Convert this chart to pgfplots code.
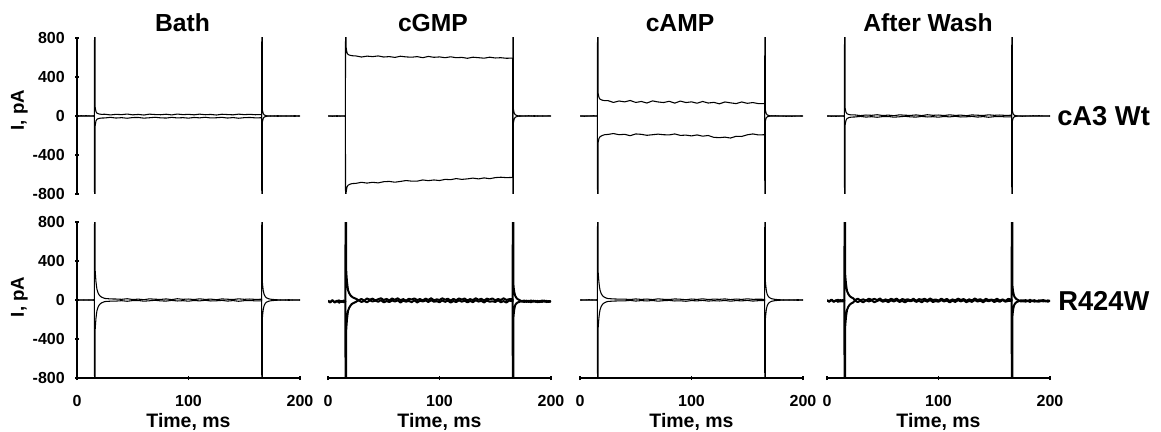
\documentclass[border=0pt]{standalone}
\usepackage{fontspec}
\setmainfont{Liberation Sans}
\usepackage{pgfplots}
\pgfplotsset{compat=1.18}
\pgfplotsset{
  panel/.style={width=167.25pt,height=117pt,scale only axis,
    xmin=0,xmax=200,ymin=-800,ymax=800,clip=true,
    major tick length=3pt,tick align=outside,
    tick style={line width=1pt,black},
    xtick={0,100,200},ytick={-800,-400,0,400,800},
    tick label style={font=\bfseries\fontsize{12}{14}\selectfont,
      /pgf/number format/assume math mode=true,inner sep=0pt},
    yticklabel style={xshift=-7.5pt},
    xticklabel style={yshift=-11pt},
    title style={font=\bfseries\fontsize{18.5}{22}\selectfont,
      at={(axis description cs:0.5,1)},anchor=base,yshift=-1.5pt,inner sep=0pt},
    label style={inner sep=0pt}},
  tr/.style={black,line width=0.8pt,line join=round,no marks},
  trn/.style={black,line width=1.5pt,line join=round,no marks},
  rowtop/.style={hide x axis},
  rowbot/.style={axis x line=bottom,xlabel={Time, ms},
    xlabel style={font=\bfseries\fontsize{14.6}{17}\selectfont,
      at={(axis description cs:0.5,0)},anchor=base,yshift=-36.75pt}},
  colfirst/.style={axis y line=left,ylabel={I, pA},
    ylabel style={font=\bfseries\fontsize{14}{17}\selectfont}},
  colrest/.style={hide y axis},
  noarrow/.style={axis line style={-,line width=1pt,black},
    every outer x axis line/.append style={-},
    every outer y axis line/.append style={-},
    every inner x axis line/.append style={-},
    every inner y axis line/.append style={-}},
}
\begin{document}
\begin{tikzpicture}
\path[use as bounding box] (0pt,0pt) rectangle (870.75pt,-324pt);
% ---------------- top row: cA3 Wt ----------------
\begin{axis}[panel,rowtop,colfirst,noarrow,at={(57.75pt,-145.5pt)},anchor=south west,
  title={Bath},title style={xshift=-4.5pt},
  ylabel style={at={(axis description cs:-0.2377,0.538)},anchor=base}]
\addplot[tr] coordinates {(0,0)(4,3)(8,-2)(12,2)(15.6,0)(16,2500)(16.3,90)(17,45)(18,28)(20,20)(22,17)(25,18)(30,11)(35,17)(40,14)(45,20)(50,12)(55,16)(60,10)(65,19)(70,15)(75,13)(80,18)(85,11)(90,20)(95,14)(100,17)(105,12)(110,19)(115,13)(120,16)(125,10)(130,18)(135,15)(140,12)(145,19)(150,14)(155,17)(160,13)(165.6,15)(166,-2500)(166.3,-60)(167,-25)(168,-10)(170,-3)(172,2)(175,-2)(180,3)(185,-2)(190,2)(195,-3)(200,1)};
\addplot[tr] coordinates {(0,1)(4,-2)(8,3)(12,-1)(15.6,0)(16,-2500)(16.3,-100)(17,-50)(18,-32)(20,-24)(22,-21)(25,-20)(30,-14)(35,-21)(40,-17)(45,-23)(50,-16)(55,-15)(60,-22)(65,-18)(70,-13)(75,-19)(80,-21)(85,-14)(90,-20)(95,-17)(100,-22)(105,-15)(110,-19)(115,-13)(120,-20)(125,-18)(130,-14)(135,-21)(140,-16)(145,-23)(150,-17)(155,-15)(160,-19)(165.6,-18)(166,2500)(166.3,60)(167,25)(168,10)(170,2)(172,-2)(175,2)(180,-3)(185,2)(190,-2)(195,3)(200,-1)};
\end{axis}
\begin{axis}[panel,rowtop,colrest,noarrow,at={(246pt,-145.5pt)},anchor=south west,
  title={cGMP},title style={xshift=-4.9pt}]
\addplot[tr] coordinates {(0,2)(4,-3)(8,3)(12,-2)(15.6,0)(16,2500)(16.3,700)(17,650)(18,630)(20,622)(22,618)(25,616)(30,605)(35,614)(40,609)(45,616)(50,605)(55,609)(60,601)(65,613)(70,606)(75,603)(80,609)(85,598)(90,611)(95,602)(100,606)(105,598)(110,607)(115,598)(120,601)(125,592)(130,603)(135,598)(140,593)(145,603)(150,595)(155,598)(160,592)(165.6,594)(166,-2500)(166.3,-70)(167,-30)(168,-12)(170,-4)(172,3)(175,-2)(180,3)(185,-3)(190,2)(195,-2)(200,2)};
\addplot[tr] coordinates {(0,-2)(4,2)(8,-3)(12,1)(15.6,0)(16,-2500)(16.3,-780)(17,-730)(18,-710)(20,-698)(22,-693)(25,-691)(30,-680)(35,-688)(40,-680)(45,-686)(50,-674)(55,-671)(60,-679)(65,-671)(70,-662)(75,-668)(80,-668)(85,-656)(90,-663)(95,-656)(100,-662)(105,-650)(110,-653)(115,-642)(120,-650)(125,-645)(130,-637)(135,-645)(140,-635)(145,-643)(150,-632)(155,-628)(160,-632)(165.6,-630)(166,2500)(166.3,70)(167,30)(168,12)(170,3)(172,-3)(175,2)(180,-2)(185,3)(190,-2)(195,2)(200,-1)};
\end{axis}
\begin{axis}[panel,rowtop,colrest,noarrow,at={(435pt,-145.5pt)},anchor=south west,
  title={cAMP},title style={xshift=-8.6pt}]
\addplot[tr] coordinates {(0,2)(4,-3)(8,2)(12,-2)(15.6,0)(16,2500)(16.3,230)(17,190)(18,172)(20,162)(22,158)(25,158)(30,139)(35,154)(40,145)(45,159)(50,139)(55,149)(60,133)(65,155)(70,144)(75,138)(80,151)(85,132)(90,153)(95,138)(100,145)(105,131)(110,149)(115,133)(120,140)(125,125)(130,144)(135,135)(140,127)(145,144)(150,130)(155,138)(160,127)(165.6,128)(166,-2500)(166.3,-50)(167,-20)(168,-8)(170,-2)(172,3)(175,-2)(180,2)(185,-3)(190,2)(195,-2)(200,1)};
\addplot[tr] coordinates {(0,-2)(4,2)(8,-2)(12,3)(15.6,0)(16,-2500)(16.3,-270)(17,-230)(18,-212)(20,-200)(22,-192)(25,-189)(30,-180)(35,-192)(40,-188)(45,-202)(50,-184)(55,-188)(60,-198)(65,-192)(70,-186)(75,-192)(80,-194)(85,-184)(90,-199)(95,-196)(100,-204)(105,-194)(110,-207)(115,-200)(120,-219)(125,-222)(130,-217)(135,-226)(140,-208)(145,-210)(150,-193)(155,-184)(160,-194)(165.6,-192)(166,2500)(166.3,60)(167,25)(168,10)(170,3)(172,-2)(175,3)(180,-2)(185,2)(190,-3)(195,2)(200,-1)};
\end{axis}
\begin{axis}[panel,rowtop,colrest,noarrow,at={(620.25pt,-145.5pt)},anchor=south west,
  title={After Wash},title style={xshift=-7.9pt}]
\addplot[tr] coordinates {(0,1)(4,-3)(8,2)(12,-2)(15.6,0)(16,2500)(16.3,80)(17,40)(18,22)(20,14)(22,11)(25,11)(30,4)(35,10)(40,7)(45,13)(50,5)(55,9)(60,3)(65,12)(70,8)(75,6)(80,11)(85,4)(90,13)(95,7)(100,10)(105,5)(110,12)(115,6)(120,9)(125,3)(130,11)(135,8)(140,5)(145,12)(150,7)(155,10)(160,6)(165.6,8)(166,-2500)(166.3,-50)(167,-20)(168,-8)(170,-2)(172,2)(175,-3)(180,2)(185,-2)(190,3)(195,-2)(200,0)};
\addplot[tr] coordinates {(0,-1)(4,2)(8,-3)(12,1)(15.6,0)(16,-2500)(16.3,-90)(17,-45)(18,-25)(20,-15)(22,-11)(25,-10)(30,-4)(35,-11)(40,-7)(45,-13)(50,-6)(55,-5)(60,-12)(65,-8)(70,-3)(75,-9)(80,-11)(85,-4)(90,-10)(95,-7)(100,-12)(105,-5)(110,-9)(115,-3)(120,-10)(125,-8)(130,-4)(135,-11)(140,-6)(145,-13)(150,-7)(155,-5)(160,-9)(165.6,-8)(166,2500)(166.3,50)(167,20)(168,8)(170,2)(172,-2)(175,2)(180,-2)(185,3)(190,-2)(195,2)(200,0)};
\end{axis}
% ---------------- bottom row: R424W ----------------
\begin{axis}[panel,rowbot,colfirst,noarrow,at={(57.75pt,-283.5pt)},anchor=south west,
  ylabel style={at={(axis description cs:-0.2377,0.52)},anchor=base}]
\addplot[tr] coordinates {(0,1)(4,-2)(8,2)(12,-1)(15.6,0)(16,2500)(16.2,320)(16.6,250)(17,190)(17.5,140)(18,105)(19,70)(20,50)(21,38)(22,30)(23.5,22)(25,16)(30,11)(35,10)(40,7)(45,13)(50,5)(55,9)(60,3)(65,12)(70,8)(75,6)(80,11)(85,4)(90,13)(95,7)(100,10)(105,5)(110,12)(115,6)(120,9)(125,3)(130,11)(135,8)(140,5)(145,12)(150,7)(155,10)(160,6)(165.6,8)(166,-2500)(166.2,-190)(166.6,-140)(167,-100)(167.5,-72)(168,-52)(169,-33)(170,-22)(172,-12)(175,-6)(180,-2)(185,2)(190,-3)(195,2)(200,0)};
\addplot[tr] coordinates {(0,-1)(4,2)(8,-2)(12,1)(15.6,0)(16,-2500)(16.2,-320)(16.6,-250)(17,-190)(17.5,-140)(18,-105)(19,-70)(20,-50)(21,-38)(22,-30)(23.5,-22)(25,-16)(30,-12)(35,-11)(40,-7)(45,-13)(50,-6)(55,-5)(60,-12)(65,-8)(70,-3)(75,-9)(80,-11)(85,-4)(90,-10)(95,-7)(100,-12)(105,-5)(110,-9)(115,-3)(120,-10)(125,-8)(130,-4)(135,-11)(140,-6)(145,-13)(150,-7)(155,-5)(160,-9)(165.6,-8)(166,2500)(166.2,190)(166.6,140)(167,100)(167.5,72)(168,52)(169,33)(170,22)(172,12)(175,6)(180,2)(185,-2)(190,3)(195,-2)(200,0)};
\end{axis}
\begin{axis}[panel,rowbot,colrest,noarrow,at={(246pt,-283.5pt)},anchor=south west]
\addplot[trn] coordinates {(0,-12)(2,-25)(4,-5)(6,-22)(8,-8)(10,-28)(12,-10)(14,-24)(15.6,-14)(16,2500)(16.2,330)(16.6,250)(17,190)(17.5,140)(18,100)(19,70)(20,50)(21,38)(22,28)(23.5,20)
(25,13)(27.5,-3)(30,10)(32.5,-6)(35,16)(37.5,3)(40,14)(42.5,-5)(45,8)(47.5,18)(50,0)(52.5,11)(55,-4)(57.5,15)(60,2)(62.5,17)(65,-2)(67.5,9)(70,-6)(72.5,12)(75,5)(77.5,16)(80,-1)(82.5,10)(85,-5)(87.5,14)(90,1)(92.5,18)(95,-3)(97.5,7)(100,0)(102.5,17)(105,3)(107.5,13)(110,-6)(112.5,11)(115,-2)(117.5,16)(120,4)(122.5,15)(125,-4)(127.5,9)(130,-1)(132.5,18)(135,2)(137.5,12)(140,-5)(142.5,14)(145,5)(147.5,16)(150,-3)(152.5,10)(155,0)(157.5,17)(160,1)(162.5,8)
(165.6,8)(166,-2500)(166.2,-190)(166.6,-140)(167,-100)(167.5,-70)(168,-50)(169,-35)(170,-26)(172,-18)(174,-8)(176,-22)(178,-6)(180,-20)(182,-4)(184,-18)(186,-7)(188,-24)(190,-9)(192,-20)(194,-5)(196,-22)(198,-10)(200,-16)};
\addplot[trn] coordinates {(0,-8)(2,-20)(4,-2)(6,-26)(8,-12)(10,-4)(12,-22)(14,-6)(15.6,-14)(16,-2500)(16.2,-330)(16.6,-260)(17,-200)(17.5,-150)(18,-110)(19,-80)(20,-60)(21,-45)(22,-36)(23.5,-28)
(25,-19)(27.5,-3)(30,-20)(32.5,-10)(35,-23)(37.5,-4)(40,-15)(42.5,-6)(45,-18)(47.5,-2)(50,-24)(52.5,-11)(55,-21)(57.5,-5)(60,-16)(62.5,-3)(65,-26)(67.5,-7)(70,-17)(72.5,-9)(75,-22)(77.5,-4)(80,-25)(82.5,-8)(85,-15)(87.5,-5)(90,-20)(92.5,-2)(95,-18)(97.5,-12)(100,-23)(102.5,-4)(105,-19)(107.5,-6)(110,-26)(112.5,-11)(115,-21)(117.5,-3)(120,-17)(122.5,-7)(125,-24)(127.5,-10)(130,-22)(132.5,-2)(135,-16)(137.5,-9)(140,-25)(142.5,-5)(145,-18)(147.5,-13)(150,-20)(152.5,-4)(155,-23)(157.5,-11)(160,-26)(162.5,-6)
(165.6,-12)(166,2500)(166.2,170)(166.6,120)(167,85)(167.5,60)(168,40)(169,22)(170,10)(172,-2)(174,-18)(176,-4)(178,-20)(180,-8)(182,-24)(184,-6)(186,-19)(188,-9)(190,-22)(192,-4)(194,-17)(196,-8)(198,-21)(200,-12)};
\end{axis}
\begin{axis}[panel,rowbot,colrest,noarrow,at={(435pt,-283.5pt)},anchor=south west]
\addplot[tr] coordinates {(0,1)(4,-2)(8,3)(12,-1)(15.6,0)(16,2500)(16.2,300)(16.6,235)(17,180)(17.5,132)(18,100)(19,66)(20,48)(21,36)(22,28)(23.5,20)(25,15)(30,11)(35,9)(40,9)(45,5)(50,11)(55,6)(60,10)(65,4)(70,12)(75,7)(80,5)(85,11)(90,8)(95,3)(100,10)(105,6)(110,12)(115,5)(120,9)(125,7)(130,11)(135,4)(140,10)(145,6)(150,12)(155,7)(160,8)(165.6,7)(166,-2500)(166.2,-200)(166.6,-150)(167,-108)(167.5,-76)(168,-55)(169,-35)(170,-24)(172,-13)(175,-6)(180,-2)(185,2)(190,-2)(195,3)(200,0)};
\addplot[tr] coordinates {(0,-1)(4,2)(8,-2)(12,1)(15.6,0)(16,-2500)(16.2,-300)(16.6,-235)(17,-180)(17.5,-132)(18,-100)(19,-66)(20,-48)(21,-36)(22,-28)(23.5,-20)(25,-15)(30,-11)(35,-9)(40,-9)(45,-4)(50,-11)(55,-6)(60,-10)(65,-5)(70,-12)(75,-7)(80,-4)(85,-10)(90,-8)(95,-13)(100,-6)(105,-9)(110,-4)(115,-11)(120,-7)(125,-10)(130,-5)(135,-12)(140,-6)(145,-9)(150,-4)(155,-11)(160,-7)(165.6,-7)(166,2500)(166.2,200)(166.6,150)(167,108)(167.5,76)(168,55)(169,35)(170,24)(172,13)(175,6)(180,2)(185,-2)(190,2)(195,-3)(200,0)};
\end{axis}
\begin{axis}[panel,rowbot,colrest,noarrow,at={(620.25pt,-283.5pt)},anchor=south west]
\addplot[trn] coordinates {(0,-5)(2,-18)(4,2)(6,-15)(8,-3)(10,-20)(12,0)(14,-16)(15.6,-6)(16,2500)(16.2,280)(16.6,220)(17,170)(17.5,125)(18,92)(19,64)(20,46)(21,34)(22,26)(23.5,18)
(25,-2)(27.5,14)(30,-3)(32.5,7)(35,-6)(37.5,13)(40,2)(42.5,11)(45,-1)(47.5,15)(50,-7)(52.5,6)(55,-4)(57.5,12)(60,1)(62.5,14)(65,-9)(67.5,10)(70,0)(72.5,8)(75,-5)(77.5,13)(80,-8)(82.5,9)(85,2)(87.5,12)(90,-3)(92.5,15)(95,-1)(97.5,5)(100,-6)(102.5,13)(105,-2)(107.5,11)(110,-9)(112.5,6)(115,-4)(117.5,14)(120,0)(122.5,10)(125,-7)(127.5,7)(130,-5)(132.5,15)(135,1)(137.5,8)(140,-8)(142.5,12)(145,-1)(147.5,4)(150,-3)(152.5,13)(155,-6)(157.5,6)(160,-9)(162.5,11)
(165.6,4)(166,-2500)(166.2,-180)(166.6,-130)(167,-95)(167.5,-66)(168,-48)(169,-32)(170,-22)(172,-12)(174,-2)(176,-16)(178,0)(180,-14)(182,2)(184,-12)(186,-1)(188,-17)(190,-3)(192,-14)(194,1)(196,-15)(198,-4)(200,-10)};
\addplot[trn] coordinates {(0,-2)(2,-14)(4,4)(6,-19)(8,-6)(10,2)(12,-17)(14,0)(15.6,-8)(16,-2500)(16.2,-290)(16.6,-230)(17,-178)(17.5,-134)(18,-100)(19,-72)(20,-54)(21,-42)(22,-34)(23.5,-25)
(25,-5)(27.5,-21)(30,-8)(32.5,-24)(35,-2)(37.5,-15)(40,-4)(42.5,-23)(45,-10)(47.5,0)(50,-18)(52.5,-7)(55,-22)(57.5,-3)(60,-16)(62.5,-1)(65,-20)(67.5,-9)(70,-24)(72.5,-6)(75,-13)(77.5,-2)(80,-19)(82.5,-8)(85,-23)(87.5,-4)(90,-17)(92.5,0)(95,-21)(97.5,-11)(100,-18)(102.5,-1)(105,-15)(107.5,-5)(110,-24)(112.5,-7)(115,-20)(117.5,-2)(120,-14)(122.5,-3)(125,-22)(127.5,-9)(130,-19)(132.5,0)(135,-16)(137.5,-6)(140,-23)(142.5,-4)(145,-13)(147.5,-2)(150,-21)(152.5,-8)(155,-18)(157.5,-1)(160,-17)(162.5,-10)
(165.6,-10)(166,2500)(166.2,160)(166.6,115)(167,80)(167.5,56)(168,36)(169,20)(170,8)(172,-4)(174,-16)(176,-2)(178,-18)(180,-6)(182,-20)(184,-4)(186,-17)(188,-7)(190,-19)(192,-2)(194,-15)(196,-6)(198,-18)(200,-8)};
\end{axis}
% row labels
\node[anchor=base west,inner sep=0pt,font=\bfseries\fontsize{20.5}{24}\selectfont] at (792.75pt,-93.75pt) {cA3 Wt};
\node[anchor=base west,inner sep=0pt,font=\bfseries\fontsize{20.5}{24}\selectfont] at (793.5pt,-232.5pt) {R424W};
\end{tikzpicture}
\end{document}
